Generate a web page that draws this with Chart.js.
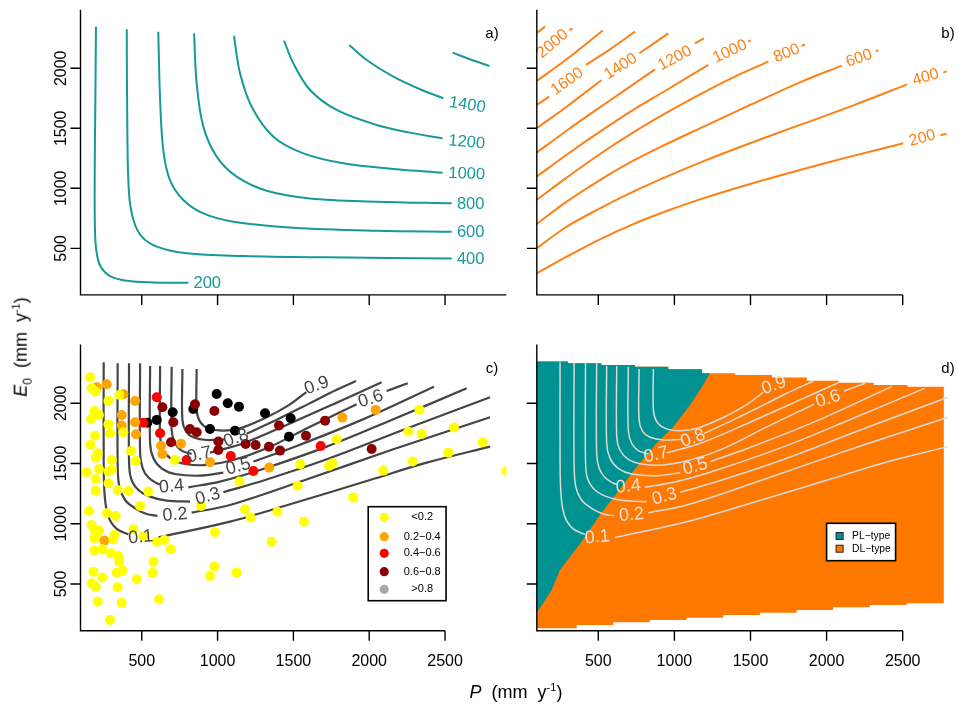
<!DOCTYPE html>
<html><head><meta charset="utf-8">
<script src="https://cdn.jsdelivr.net/npm/chart.js@4/dist/chart.umd.min.js"></script>
<style>
html,body{margin:0;padding:0;background:#fff;}
#wrap{position:relative;width:958px;height:709px;overflow:hidden;font-family:"Liberation Sans",Arial,sans-serif;}
canvas{position:absolute;left:0;top:0;}
.t{position:absolute;color:#000;white-space:nowrap;transform:translate(-50%,-50%);}
</style></head><body>
<div id="wrap">
<canvas id="ca" width="958" height="709"></canvas>
<canvas id="cb" width="958" height="709"></canvas>
<canvas id="cc" width="958" height="709"></canvas>
<canvas id="cd" width="958" height="709"></canvas>
<div class="t" style="left:492px;top:32px;font-size:15px">a)</div>
<div class="t" style="left:948px;top:32px;font-size:15px">b)</div>
<div class="t" style="left:492px;top:367px;font-size:15px">c)</div>
<div class="t" style="left:948px;top:367px;font-size:15px">d)</div>
<div class="t" style="left:22px;top:347px;font-size:18px;transform:translate(-50%,-50%) rotate(-90deg)"><i>E</i><sub style="font-size:12px">0</sub>&nbsp;&nbsp;(mm&nbsp;&nbsp;y<sup style="font-size:11px">-1</sup>)</div>
<div class="t" style="left:516px;top:692px;font-size:18px"><i>P</i>&nbsp;&nbsp;(mm&nbsp;&nbsp;y<sup style="font-size:11px">-1</sup>)</div>
</div>
<script>
// ---------------- shared axes ----------------
const xTicks = [500, 1000, 1500, 2000, 2500];
const yTicks = [500, 1000, 1500, 2000];
const xRangeLeft = [96, 2904];
const xRangeRight = [96, 2860];
const yRange = [112, 2488];

// ---------------- panel a: contours (mm/y), P vs E0 ----------------
const aLineP = [
  [198,194,190,192,207,236,291,401,576,807],
  [401,405,416,445,500,599,796,1170,1720,2544],
  [609,621,642,686,774,906,1104,1500,2049,2544],
  [845,862,906,994,1126,1324,1610,2049,2544],
  [1108,1148,1225,1368,1566,1830,2159,2484],
  [1438,1500,1610,1785,2049,2269,2484],
  [1869,1983,2159,2335,2489],
  [2550,2665,2792]
];
const aLineE0 = [
  [2347,1736,1180,625,430,333,269,230,216,214],
  [2325,1458,958,736,597,514,458,436,425,416],
  [2305,1736,1319,1069,903,791,722,672,647,639],
  [2291,1875,1514,1264,1097,980,916,889,875],
  [2269,1958,1680,1430,1291,1208,1161,1130],
  [2230,2041,1819,1653,1528,1464,1416],
  [2194,2069,1930,1825,1750],
  [2130,2075,2019]
];
const aLabelText = ['200','400','600','800','1000','1200','1400'];
const aLabelP = [932,2669,2669,2669,2643,2643,2647];
const aLabelE0 = [208,411,633,867,1119,1383,1694];
const aLabelAngle = [0,0,0,0,2,5,9];

// ---------------- panel b: contours (mm/y) ----------------
const bLineP = [
  [95,292,511,730,949,1168,1497,1825,2154,2504,null,2749,2789],
  [95,292,511,730,949,1168,1497,1825,2154,2530,null,2767,2789],
  [95,292,511,730,949,1168,1497,1825,2099,null,2324,2340],
  [95,292,511,730,949,1168,1387,1617,null,1836,1858],
  [95,292,511,730,949,1223,null,1486,1501],
  [95,292,511,730,872,null,1135,1194],
  [95,292,522,null,770,960],
  [95,178,null,419,577,741],
  [95,292,529],
  [310,331],
  [99,150]
];
const bLineE0 = [
  [291,430,575,702,811,908,1036,1153,1264,1375,null,1444,1453],
  [500,680,833,972,1097,1214,1375,1528,1680,1866,null,1964,1975],
  [702,889,1069,1230,1369,1500,1694,1883,2022,null,2141,2150],
  [903,1089,1286,1466,1630,1783,1925,2055,null,2186,2200],
  [1097,1280,1472,1653,1819,2028,null,2222,2233],
  [1297,1480,1675,1866,1991,null,2208,2250],
  [1500,1680,1903,null,2125,2291],
  [1694,1764,null,2028,2158,2305],
  [1894,2075,2314],
  [2319,2330],
  [2297,2347]
];
const bLabelText = ['200','400','600','800','1000','1200','1400','1600','2000'];
const bLabelP = [2629,2651,2213,1738,1365,1004,647,296,200];
const bLabelE0 = [1417,1925,2083,2125,2139,2083,2014,1889,2203];
const bLabelAngle = [-15,-17,-20,-22,-25,-28,-32,-35,-40];

// ---------------- panels c & d: contours of fraction ----------------
const cLineP = [
  [249,249,256,280,335,412,null,610,1082,1500,2005,2379,2797],
  [341,341,352,390,456,533,603,null,829,1082,1577,2159,2797],
  [416,416,429,478,555,664,818,null,1038,1313,1720,2269,2797],
  [489,489,506,544,599,621,null,807,1016,1280,1720,2159,2643],
  [555,555,577,631,719,884,1038,null,1236,1500,1939,2427],
  [621,621,642,697,785,928,1104,1324,1610,1917,null,2115,2254],
  [697,697,719,763,829,null,950,1170,1500,1829,2082],
  [768,768,792,840,928,1049,null,1192,1400,1600,1741,1913],
  [862,862,884,939,1038,1148,1324,1470,1585]
];
const cLineE0 = [
  [2340,1502,1225,1059,957,912,null,887,1017,1170,1363,1507,1640],
  [2332,1502,1308,1197,1128,1081,1065,null,1092,1156,1363,1618,1884],
  [2332,1529,1377,1280,1225,1192,1183,null,1261,1363,1535,1801,2050],
  [2332,1585,1460,1383,1336,1327,null,1302,1350,1446,1640,1867,2124],
  [2310,1668,1543,1460,1413,1399,1424,null,1516,1635,1856,2138],
  [2310,1723,1612,1535,1496,1488,1529,1626,1806,1992,null,2102,2166],
  [2304,1778,1668,1607,1579,null,1590,1668,1845,2030,2174],
  [2285,1862,1765,1718,1695,1701,null,1748,1870,1995,2085,2185],
  [2285,1945,1848,1792,1773,1792,1884,1985,2092]
];
const cLabelText = ['0.9','0.6','0.8','0.7','0.5','0.4','0.3','0.2','0.1'];
const cLabelP = [1654,2010,1122,880,1137,697,935,719,493];
const cLabelE0 = [2147,2036,1709,1571,1474,1308,1225,1073,887];
const cLabelAngle = [-20,-18,-20,-12,-15,-5,-15,-5,-5];

// ---------------- panel c: catchments by class ----------------
const classNames = ['<0.2','0.2\u22120.4','0.4\u22120.6','0.6\u22120.8','>0.8'];
const yellowP = [159,170,196,280,352,188,166,218,280,379,291,192,161,210,196,302,429,460,137,218,196,280,302,280,341,412,196,544,719,1144,2331,2258,2346,2559,2748,2522,2287,2093,1785,1759,1735,1544,1528,1895,2906,1181,1218,1394,1570,1357,1126,983,979,950,891,691,599,649,511,445,489,152,269,328,170,192,218,188,319,313,188,240,297,346,352,335,374,181,240,170,196,341,467,577,572,210,368,614,291];
const yellowE0 = [2216,2124,2097,2019,2069,1936,1870,1903,1826,1759,1751,1731,1654,1585,1549,1529,1604,1521,1427,1455,1372,1433,1446,1336,1280,1272,1275,1266,1529,1350,1945,1765,1745,1798,1676,1590,1516,1441,1701,1502,1480,1494,1316,1217,1438,1120,1051,1100,1017,851,594,929,644,566,1148,788,851,865,898,954,1148,1106,1087,1064,990,934,943,879,907,871,777,788,755,732,685,594,611,602,553,505,478,472,539,685,594,353,345,373,201];
const orangeP = [203,269,379,456,368,368,456,462,759,627,636,950,1341,1823,2043,253];
const orangeE0 = [2133,2158,2075,2019,1903,1815,1842,1743,1665,1648,1579,1510,1466,1881,1945,860];
const redP = [599,511,621,796,1087,1236,1680];
const redE0 = [2050,1839,1751,1529,1563,1438,1646];
const darkRedP = [636,708,693,818,862,851,979,1005,1005,1185,1251,1339,1405,1412,1583,1709,2016];
const darkRedE0 = [1967,1842,1676,1787,1759,1992,1936,1682,1612,1662,1654,1640,1815,1607,1731,1856,1621];
const blackP = [537,599,704,840,994,1067,1141,950,1115,1313,1482,1471];
const blackE0 = [1839,1862,1925,1953,2077,2000,1972,1787,1773,1917,1875,1723];

// ---------------- panel d: regime map ----------------
const dTopEdgeP = [96,300,520,740,960,1180,1400,1640,1870,2080,2310,2530,2770];
const dTopE0 = [2346,2332,2318,2304,2282,2250,2235,2214,2188,2171,2152,2138];
const dBottomEdgeP = [96,358,598,839,1080,1321,1562,1803,2043,2284,2526,2770];
const dBottomE0 = [132,160,182,201,220,242,262,284,306,326,340];
const dSplitP = [96,194,248,390,511,621,752,883,993,1102,1168,1234];
const dSplitE0 = [262,450,616,851,1073,1253,1474,1668,1806,1986,2111,2250];
const regimeNames = ['PL\u2212type','DL\u2212type'];

// ---------------- helpers ----------------
const FONT = '"Liberation Sans", Arial, sans-serif';
const TEAL = '#17999a', ORANGE = '#ff8014', TEAL_FILL = '#009191', ORANGE_FILL = '#ff7800';
function pts(P, E) { return P.map((p, i) => (p === null ? {x: null, y: null} : {x: p, y: E[i]})); }
function lineDs(P, E, color, w) {
  return {data: pts(P, E), showLine: true, borderColor: color, borderWidth: w, pointRadius: 0,
    pointHoverRadius: 0, tension: 0.35, fill: false, spanGaps: false, order: 1};
}
function dotDs(P, E, color) {
  return {data: pts(P, E), showLine: false, backgroundColor: color, borderWidth: 0, pointRadius: 5,
    pointHoverRadius: 5, order: 0};
}
function polyDs(points, color, order) {
  return {data: points, showLine: true, fill: 'shape', backgroundColor: color, borderColor: 'rgba(0,0,0,0)',
    borderWidth: 1, pointRadius: 0, tension: 0, order: order};
}
function decor(o) {
  return {id: 'decor', afterDatasetsDraw(chart) {
    const c = chart.ctx, xs = chart.scales.x, ys = chart.scales.y, A = chart.chartArea;
    c.save();
    if (o.labels) {
      const L = o.labels;
      c.font = L.font; c.fillStyle = L.color; c.textAlign = 'center'; c.textBaseline = 'middle';
      L.text.forEach((t, i) => {
        c.save();
        c.translate(xs.getPixelForValue(L.P[i]), ys.getPixelForValue(L.E[i]));
        c.rotate(L.ang[i] * Math.PI / 180);
        c.fillText(t, 0, 0);
        c.restore();
      });
    }
    c.strokeStyle = '#000'; c.lineWidth = 1.4;
    const yb = A.bottom, xl = A.left;
    const xEnd = o.fullX ? A.right : xs.getPixelForValue(xTicks[xTicks.length - 1]);
    c.beginPath();
    c.moveTo(xl, A.top); c.lineTo(xl, yb); c.lineTo(xEnd, yb);
    xTicks.forEach(v => { const x = xs.getPixelForValue(v); c.moveTo(x, yb); c.lineTo(x, yb + 10); });
    yTicks.forEach(v => { const y = ys.getPixelForValue(v); c.moveTo(xl, y); c.lineTo(xl - 10, y); });
    c.stroke();
    c.fillStyle = '#000'; c.font = '16px ' + FONT; c.textAlign = 'center'; c.textBaseline = 'middle';
    if (o.xLabels) xTicks.forEach(v => c.fillText(String(v), xs.getPixelForValue(v), yb + 31));
    if (o.yLabels) yTicks.forEach(v => {
      c.save(); c.translate(xl - 19, ys.getPixelForValue(v)); c.rotate(-Math.PI / 2);
      c.fillText(String(v), 0, 0); c.restore();
    });
    if (o.legend) o.legend(c, xs, ys, A);
    c.restore();
  }};
}
function makeChart(id, pad, xr, datasets, plugin) {
  return new Chart(document.getElementById(id), {
    type: 'scatter',
    data: {datasets: datasets},
    options: {
      responsive: false, animation: false, devicePixelRatio: 1, events: [],
      layout: {padding: pad},
      plugins: {legend: {display: false}, tooltip: {enabled: false}},
      scales: {
        x: {type: 'linear', min: xr[0], max: xr[1], display: false},
        y: {type: 'linear', min: yRange[0], max: yRange[1], display: false}
      }
    },
    plugins: [plugin]
  });
}

// ---------------- panel a ----------------
makeChart('ca', {left: 80.5, top: 9.7, right: 451.7, bottom: 414.1}, xRangeLeft,
  aLineP.map((P, i) => lineDs(P, aLineE0[i], TEAL, 2)),
  decor({fullX: true, yLabels: true,
    labels: {text: aLabelText, P: aLabelP, E: aLabelE0, ang: aLabelAngle, font: '16.5px ' + FONT, color: TEAL}}));

// ---------------- panel b ----------------
makeChart('cb', {left: 536.8, top: 9.7, right: 0.5, bottom: 414.1}, xRangeRight,
  bLineP.map((P, i) => lineDs(P, bLineE0[i], ORANGE, 2)),
  decor({labels: {text: bLabelText, P: bLabelP, E: bLabelE0, ang: bLabelAngle, font: '16px ' + FONT, color: ORANGE}}));

// ---------------- panel c ----------------
const dotColors = ['#ffff00', '#ffa500', '#ff0000', '#8b0000', '#000000'];
const legendColors = ['#ffff00', '#ffa500', '#ff0000', '#8b0000', '#a9a9a9'];
makeChart('cc', {left: 80.5, top: 344.5, right: 451.7, bottom: 78.3}, xRangeLeft,
  [dotDs(yellowP, yellowE0, dotColors[0]), dotDs(orangeP, orangeE0, dotColors[1]),
   dotDs(redP, redE0, dotColors[2]), dotDs(darkRedP, darkRedE0, dotColors[3]),
   dotDs(blackP, blackE0, dotColors[4])].concat(cLineP.map((P, i) => lineDs(P, cLineE0[i], '#454545', 2.2))),
  decor({xLabels: true, yLabels: true,
    labels: {text: cLabelText, P: cLabelP, E: cLabelE0, ang: cLabelAngle, font: '18px ' + FONT, color: '#454545'},
    legend: (c, xs, ys, A) => {
      const L = xs.getPixelForValue(2000) - 1, R = xs.getPixelForValue(2500) + 1, T = 506.7, B = 600.7;
      c.fillStyle = '#fff'; c.fillRect(L, T, R - L, B - T);
      c.strokeStyle = '#000'; c.lineWidth = 1.6; c.strokeRect(L, T, R - L, B - T);
      const ys2 = [10.6, 30, 46.6, 65, 82.6];
      c.font = '11px ' + FONT; c.textAlign = 'center'; c.textBaseline = 'middle';
      classNames.forEach((n, i) => {
        c.fillStyle = legendColors[i]; c.beginPath(); c.arc(L + 16, T + ys2[i], 4.6, 0, Math.PI * 2); c.fill();
        c.fillStyle = '#000'; c.fillText(n, L + 54, T + ys2[i]);
      });
    }}));

// ---------------- panel d ----------------
const orangePoly = [];
for (let i = 0; i < dBottomE0.length; i++) {
  orangePoly.push({x: dBottomEdgeP[i], y: dBottomE0[i]}, {x: dBottomEdgeP[i + 1], y: dBottomE0[i]});
}
for (let i = dTopE0.length - 1; i >= 0; i--) {
  orangePoly.push({x: dTopEdgeP[i + 1], y: dTopE0[i]}, {x: dTopEdgeP[i], y: dTopE0[i]});
}
const tealPoly = dSplitP.map((p, i) => ({x: p, y: dSplitE0[i]}));
const splitTop = dSplitP[dSplitP.length - 1];
for (let i = dTopE0.length - 1; i >= 0; i--) {
  if (dTopEdgeP[i] >= splitTop) continue;
  tealPoly.push({x: Math.min(dTopEdgeP[i + 1], splitTop), y: dTopE0[i]}, {x: dTopEdgeP[i], y: dTopE0[i]});
}
makeChart('cd', {left: 536.8, top: 344.5, right: 0.5, bottom: 78.3}, xRangeRight,
  [polyDs(orangePoly, ORANGE_FILL, 3), polyDs(tealPoly, TEAL_FILL, 2)]
    .concat(cLineP.map((P, i) => lineDs(P, cLineE0[i], '#dadada', 1.5))),
  decor({xLabels: true,
    labels: {text: cLabelText, P: cLabelP, E: cLabelE0, ang: cLabelAngle, font: '18px ' + FONT, color: '#e4e4e4'},
    legend: (c, xs, ys, A) => {
      const L = xs.getPixelForValue(2000), R = L + 69, T = 523.3, B = 560.7;
      c.fillStyle = '#fff'; c.fillRect(L, T, R - L, B - T);
      c.strokeStyle = '#000'; c.lineWidth = 1.6; c.strokeRect(L, T, R - L, B - T);
      const fills = [TEAL_FILL, ORANGE_FILL], yy = [12.7, 25.4];
      c.font = '10.3px ' + FONT; c.textAlign = 'left'; c.textBaseline = 'middle';
      regimeNames.forEach((n, i) => {
        c.fillStyle = fills[i]; c.fillRect(L + 9.5, T + yy[i] - 3.5, 7, 7);
        c.strokeStyle = '#222'; c.lineWidth = 1; c.strokeRect(L + 9.5, T + yy[i] - 3.5, 7, 7);
        c.fillStyle = '#000'; c.fillText(n, L + 25.5, T + yy[i]);
      });
    }}));
</script>
</body></html>
